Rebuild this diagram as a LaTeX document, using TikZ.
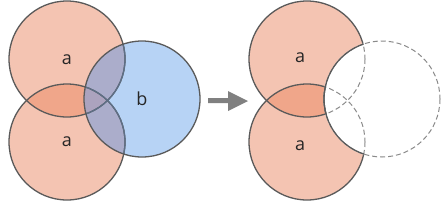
\documentclass[tikz,border=0pt]{standalone}
\usepackage{fontspec}
\newfontfamily\labfont{Open Sans}
\definecolor{salmon}{HTML}{F4C4B2}
\definecolor{salmondk}{HTML}{F0A68A}
\definecolor{bluef}{HTML}{B7D3F5}
\definecolor{lav}{HTML}{ABADCB}
\definecolor{lavdk}{HTML}{ACA3BE}
\definecolor{edge}{HTML}{5A5A5A}
\definecolor{edgeb}{HTML}{5E6F86}
\definecolor{dashc}{HTML}{8A8A8A}
\definecolor{arrowc}{HTML}{808080}
\tikzset{
  x=1pt,y=-1pt,
  outl/.style={draw=edge,line width=1.3pt},
  outlb/.style={draw=edgeb,line width=1.3pt},
  dsh/.style={draw=dashc,line width=1pt,dash pattern=on 5pt off 3pt},
  lab/.style={font=\labfont\fontsize{18}{18}\selectfont,text=black!85,inner sep=0pt}
}
\begin{document}
\begin{tikzpicture}
\useasboundingbox (0,0) rectangle (443,201);
% ---------- left ----------
\coordinate (A1) at (67,59);
\coordinate (A2) at (67,142);
\coordinate (B) at (142,99);
\fill[salmon] (A1) circle[radius=58];
\fill[salmon] (A2) circle[radius=58];
\begin{scope}
  \clip (A1) circle[radius=58];
  \fill[salmondk] (A2) circle[radius=58];
\end{scope}
\fill[bluef] (B) circle[radius=58];
\begin{scope}
  \clip (B) circle[radius=58];
  \fill[lav] (A1) circle[radius=58];
  \fill[lav] (A2) circle[radius=58];
  \clip (A1) circle[radius=58];
  \fill[lavdk] (A2) circle[radius=58];
\end{scope}
\draw[outl] (A1) circle[radius=58];
\draw[outl] (A2) circle[radius=58];
\begin{scope}
  \clip (B) circle[radius=58];
  \draw[outlb] (A1) circle[radius=58];
  \draw[outlb] (A2) circle[radius=58];
\end{scope}
\draw[outl] (B) circle[radius=58];
\node[lab] (la1) at (67,60) {a};
\node[lab] (la2) at (67,142) {a};
\node[lab] (lb) at (142,99) {b};
% ---------- arrow ----------
\fill[arrowc] (208,98) -- (228,98) -- (228,91) -- (248,101) -- (228,111) -- (228,103) -- (208,103) -- cycle;
% ---------- right ----------
\coordinate (C1) at (307,59);
\coordinate (C2) at (307,142);
\coordinate (D) at (382,99);
\fill[salmon] (C1) circle[radius=58];
\fill[salmon] (C2) circle[radius=58];
\begin{scope}
  \clip (C1) circle[radius=58];
  \fill[salmondk] (C2) circle[radius=58];
\end{scope}
\draw[outl] (C1) circle[radius=58];
\draw[outl] (C2) circle[radius=58];
\fill[white] (D) circle[radius=58.6];
\begin{scope}
  \clip (D) circle[radius=58];
  \draw[dsh] (C1) circle[radius=58];
  \draw[dsh] (C2) circle[radius=58];
\end{scope}
\draw[dsh] (D) circle[radius=58];
\begin{scope}
  \clip (C1) circle[radius=58.6];
  \draw[outl] (D) circle[radius=58];
\end{scope}
\begin{scope}
  \clip (C2) circle[radius=58.6];
  \draw[outl] (D) circle[radius=58];
\end{scope}
\node[lab] (ra1) at (300,58) {a};
\node[lab] (ra2) at (300,146) {a};
\end{tikzpicture}
\end{document}
